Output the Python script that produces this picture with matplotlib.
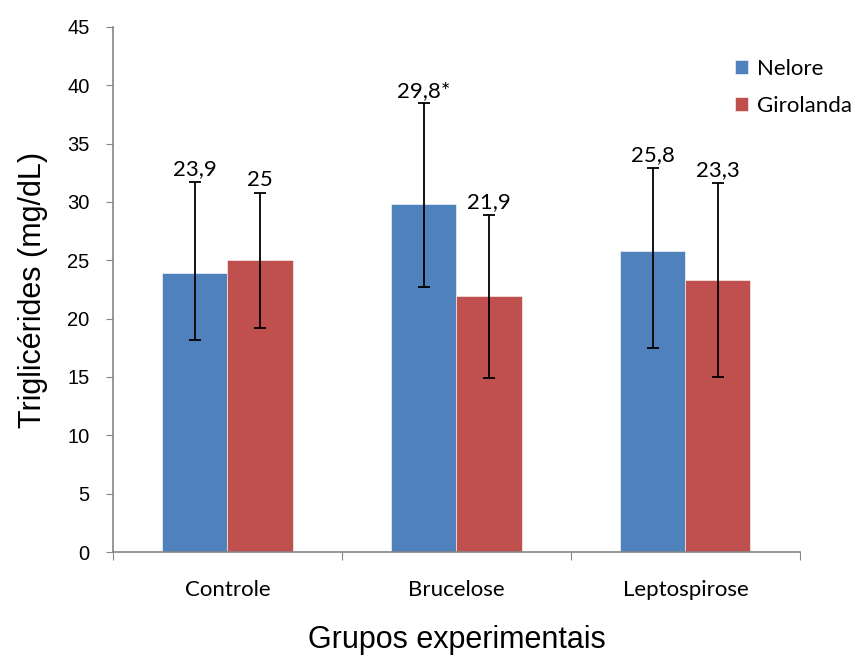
import matplotlib
matplotlib.use('Agg')
import matplotlib.pyplot as plt
import numpy as np

# data
groups = ['Controle', 'Brucelose', 'Leptospirose']
series = ['Nelore', 'Girolanda']
nelore = [23.9, 29.8, 25.8]
girolanda = [25.0, 21.9, 23.3]
nelore_low = [18.2, 22.7, 17.5]
nelore_high = [31.7, 38.45, 32.9]
girolanda_low = [19.2, 14.9, 15.0]
girolanda_high = [30.75, 28.9, 31.6]
nelore_labels = ['23,9', '29,8*', '25,8']
girolanda_labels = ['25', '21,9', '23,3']
yticks = [0, 5, 10, 15, 20, 25, 30, 35, 40, 45]

colors = ['#4F81BD', '#C0504D']
axis_gray = '#868686'
calibri_like = ['Lato', 'DejaVu Sans']
arial_like = ['Liberation Sans', 'DejaVu Sans']

fig = plt.figure(figsize=(8.62, 6.61), dpi=100)
ax = fig.add_axes([0.1311, 0.1649, 0.928 - 0.1311, 0.9592 - 0.1649])

x = np.arange(len(groups))
w = 0.284
all_vals = [nelore, girolanda]
all_low = [nelore_low, girolanda_low]
all_high = [nelore_high, girolanda_high]
all_labels = [nelore_labels, girolanda_labels]

for k, name in enumerate(series):
    pos = x + (k - 0.5) * w
    vals = np.array(all_vals[k])
    low = np.array(all_low[k])
    high = np.array(all_high[k])
    ax.bar(pos, vals, width=w, color=colors[k], edgecolor='white',
           linewidth=0.4, label=name, zorder=2)
    ax.errorbar(pos, vals, yerr=[vals - low, high - vals], fmt='none',
                ecolor='black', elinewidth=1.3, capsize=4, capthick=1.3,
                zorder=3)
    for p, h, lab in zip(pos, high, all_labels[k]):
        ax.annotate(lab, (p, h), xytext=(0, 2), textcoords='offset points',
                    ha='center', va='bottom', fontsize=16,
                    family=calibri_like)

ax.set_xlim(-0.5, len(groups) - 0.5)
ax.set_ylim(0, 45)
ax.set_yticks(yticks)
ax.set_yticklabels([str(t) for t in yticks], family=arial_like, fontsize=14.5)

# boundary ticks without labels, category labels without ticks
ax.set_xticks(np.arange(-0.5, len(groups)), minor=False)
ax.set_xticklabels([''] * (len(groups) + 1))
ax.set_xticks(x, minor=True)
ax.set_xticklabels(groups, minor=True, family=calibri_like, fontsize=16)
ax.tick_params(axis='x', which='major', length=6, color=axis_gray, direction='out')
ax.tick_params(axis='x', which='minor', length=0, pad=20)
ax.tick_params(axis='y', length=5, color=axis_gray, direction='out', pad=12)

for side in ['top', 'right']:
    ax.spines[side].set_visible(False)
for side in ['left', 'bottom']:
    ax.spines[side].set_color(axis_gray)
    ax.spines[side].set_linewidth(1.2)

ax.set_ylabel('Triglicérides (mg/dL)', family=arial_like, fontsize=22, labelpad=14)
ax.set_xlabel('Grupos experimentais', family=arial_like, fontsize=22, labelpad=18)

leg = ax.legend(loc='upper left', bbox_to_anchor=(0.905, 0.939), frameon=False,
                prop={'family': calibri_like, 'size': 16},
                handlelength=0.6, handleheight=0.6, handletextpad=0.4,
                labelspacing=0.75, borderaxespad=0, borderpad=0)

fig.savefig('out.png', dpi=100)
